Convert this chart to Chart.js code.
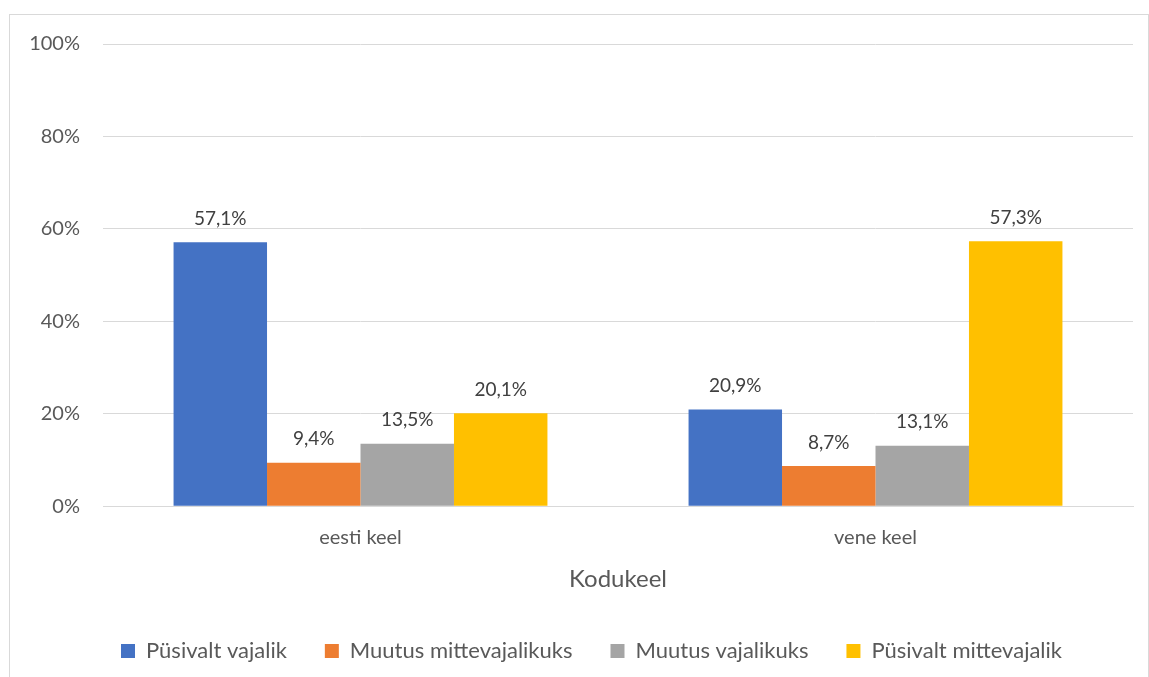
<!DOCTYPE html>
<html>
<head>
<meta charset="utf-8">
<script src="https://cdn.jsdelivr.net/npm/chart.js@4"></script>
<style>
  body { margin: 0; background: #fff; }
  #frame { position: absolute; left: 9px; top: 14px; width: 1138px; height: 680px; border: 1px solid #d9d9d9; }
  #wrap { position: absolute; left: 0; top: 0; width: 1149px; height: 677px; }
</style>
</head>
<body>
<div id="frame"></div>
<div id="wrap"><canvas id="chart" width="1149" height="677"></canvas></div>
<script>
// Data
const categories = ['eesti keel', 'vene keel'];
const seriesNames = ['Püsivalt vajalik', 'Muutus mittevajalikuks', 'Muutus vajalikuks', 'Püsivalt mittevajalik'];
const pysivaltVajalik = [57.1, 20.9];
const muutusMittevajalikuks = [9.4, 8.7];
const muutusVajalikuks = [13.5, 13.1];
const pysivaltMittevajalik = [20.1, 57.3];
const yTicks = [0, 20, 40, 60, 80, 100];

const colors = ['#4472C4', '#ED7D31', '#A5A5A5', '#FFC000'];
const textColor = '#595959';
const fontFamily = 'Lato, "Open Sans", sans-serif';

const fmt = v => v.toFixed(1).replace('.', ',') + '%';

// simple value labels above the bars
const barLabels = {
  id: 'barLabels',
  afterDatasetsDraw(chart) {
    const ctx = chart.ctx;
    ctx.save();
    ctx.font = '19px ' + fontFamily;
    ctx.fillStyle = '#404040';
    ctx.textAlign = 'center';
    ctx.textBaseline = 'bottom';
    chart.data.datasets.forEach((ds, i) => {
      chart.getDatasetMeta(i).data.forEach((bar, j) => {
        ctx.fillText(fmt(ds.data[j]), bar.x, bar.y - 14);
      });
    });
    ctx.restore();
  }
};

// legend sits centred under the plot area, not the whole canvas
const legendShift = {
  id: 'legendShift',
  afterLayout(chart) {
    chart.legend.left += 25;
    chart.legend.right += 25;
  }
};

const seriesData = [pysivaltVajalik, muutusMittevajalikuks, muutusVajalikuks, pysivaltMittevajalik];

new Chart(document.getElementById('chart'), {
  type: 'bar',
  data: {
    labels: categories,
    datasets: seriesNames.map((name, i) => ({
      label: name,
      data: seriesData[i],
      backgroundColor: colors[i],
      borderWidth: 0,
      categoryPercentage: 0.726,
      barPercentage: 1.0
    }))
  },
  options: {
    responsive: false,
    animation: false,
    layout: { padding: { left: 0, right: 16, top: 44, bottom: 5 } },
    plugins: {
      legend: {
        position: 'bottom',
        labels: {
          color: textColor,
          font: { family: fontFamily, size: 22 },
          boxWidth: 14,
          boxHeight: 14,
          padding: 38
        }
      },
      tooltip: { enabled: false }
    },
    scales: {
      x: {
        grid: { display: false },
        border: { color: '#d9d9d9' },
        ticks: { color: textColor, font: { family: fontFamily, size: 20 }, padding: 11 },
        title: {
          display: true,
          text: 'Kodukeel',
          color: textColor,
          font: { family: fontFamily, size: 24 },
          padding: { top: 5, bottom: 8 }
        }
      },
      y: {
        min: 0,
        max: 100,
        afterFit(scale) { scale.width = 103; },
        afterBuildTicks(scale) { scale.ticks = yTicks.map(v => ({ value: v })); },
        grid: { color: '#d9d9d9', drawTicks: false },
        border: { display: false },
        ticks: {
          color: textColor,
          font: { family: fontFamily, size: 20 },
          padding: 23,
          callback: v => v + '%'
        }
      }
    }
  },
  plugins: [barLabels, legendShift]
});
</script>
</body>
</html>
